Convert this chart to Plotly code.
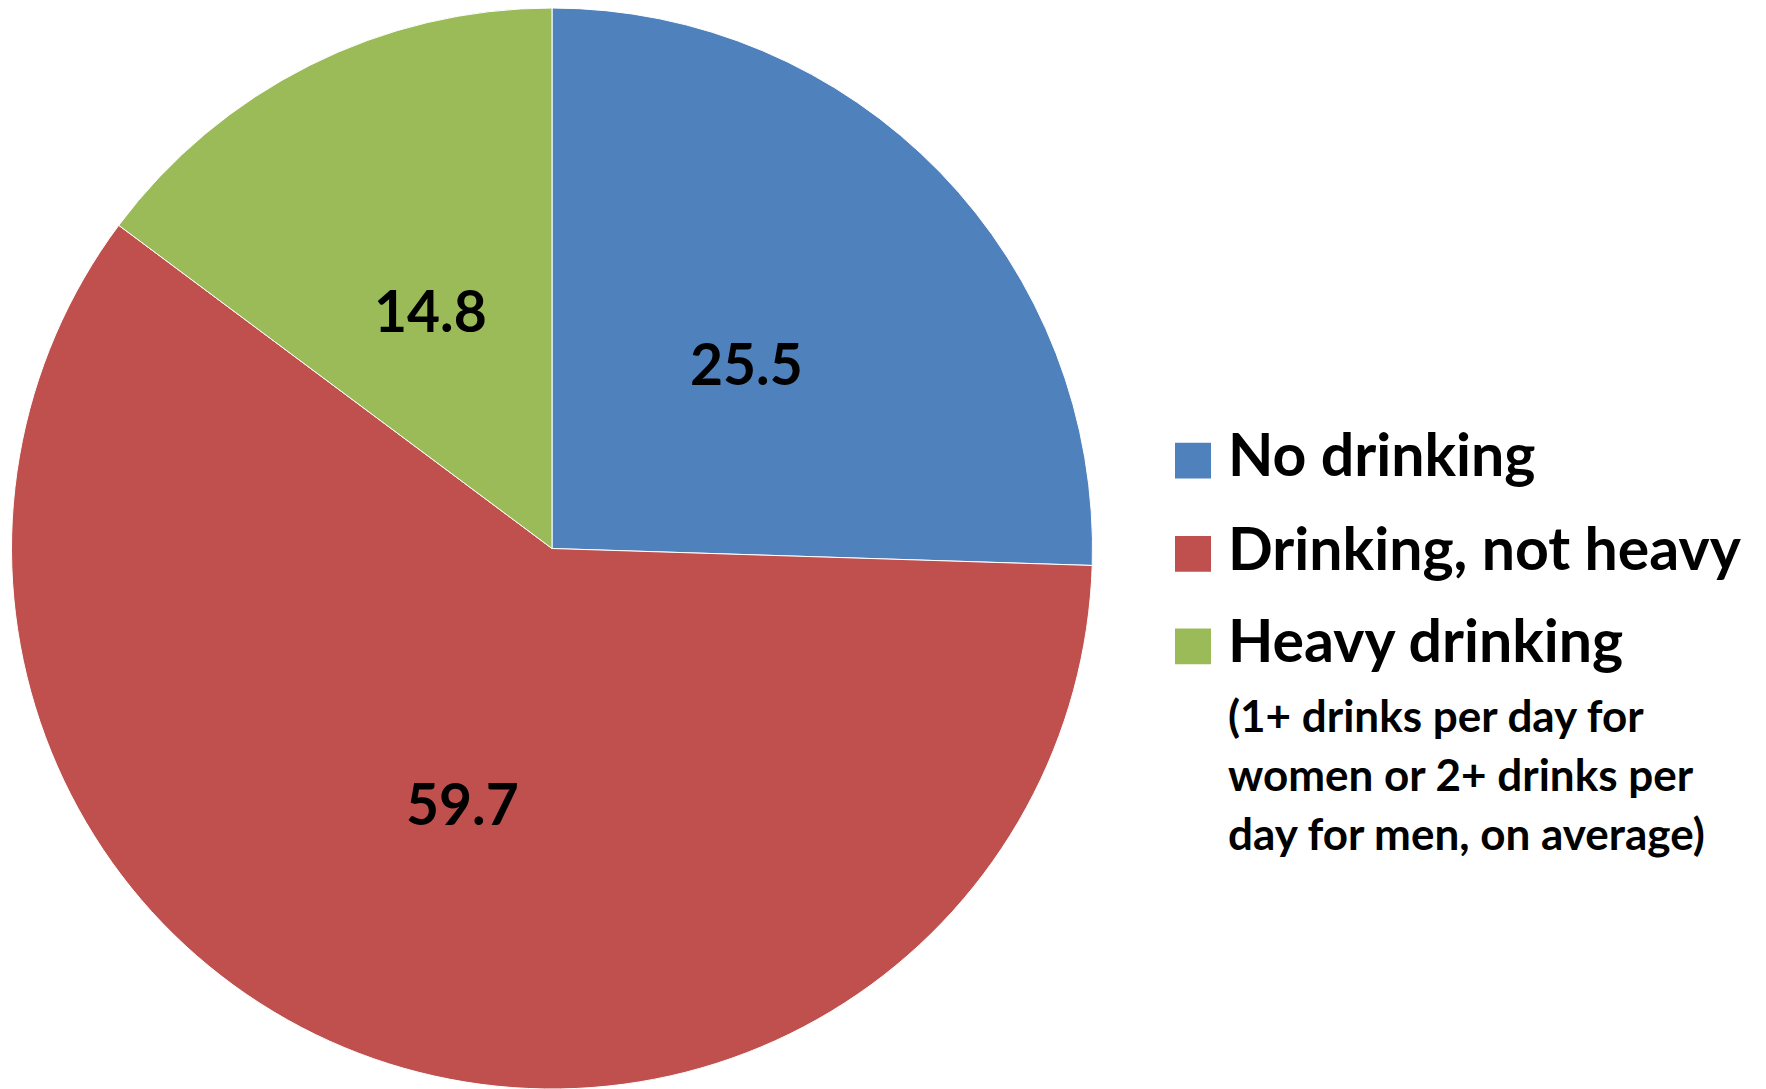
import math
import plotly.graph_objects as go

categories = ["No drinking", "Drinking, not heavy", "Heavy drinking"]
values = [25.5, 59.7, 14.8]
colors = ["#4F81BD", "#C0504D", "#9BBB59"]
note_lines = ["(1+ drinks per day for", "women or 2+ drinks per", "day for men, on average)"]

W, H = 1766, 1089
FONT = "Lato"

# pie geometry (pixels)
CX, CY, R = 552, 548.5, 540.5

fig = go.Figure(go.Pie(
    labels=categories,
    values=values,
    sort=False,
    direction="clockwise",
    rotation=0,
    marker=dict(colors=colors, line=dict(color="white", width=1)),
    textinfo="none",
    hoverinfo="label+value",
    showlegend=False,
    domain=dict(x=[(CX - R) / W, (CX + R) / W], y=[0, 1]),
))

annotations = []
# data labels at half radius, mid-angle of each slice (computed from values)
total = sum(values)
cum = 0.0
for v in values:
    mid = (cum + v / 2) / total * 2 * math.pi
    cum += v
    px = CX + 0.5 * R * math.sin(mid)
    py = CY - 0.5 * R * math.cos(mid) - 3
    annotations.append(dict(text=f"{v:.1f}", xref="paper", yref="paper",
                            x=px / W, y=1 - py / H, xanchor="center", yanchor="middle",
                            showarrow=False,
                            font=dict(family=FONT, size=57, color="black", weight="bold")))

# custom legend (boxes + text)
box_x0, box_x1 = 1175, 1211
row_y = [456, 550, 643]
shapes = []
for cat, col, yc in zip(categories, colors, row_y):
    shapes.append(dict(type="rect", xref="paper", yref="paper",
                       x0=box_x0 / W, x1=box_x1 / W,
                       y0=1 - (yc + 18) / H, y1=1 - (yc - 18) / H,
                       fillcolor=col, line=dict(width=0)))
    annotations.append(dict(text=cat, xref="paper", yref="paper",
                            x=1226 / W, y=1 - (yc - 7) / H, xanchor="left", yanchor="middle",
                            showarrow=False,
                            font=dict(family=FONT, size=59, color="black", weight="bold")))
note_y = [712, 772, 831]
for line, yc in zip(note_lines, note_y):
    annotations.append(dict(text=line, xref="paper", yref="paper",
                            x=1226 / W, y=1 - yc / H, xanchor="left", yanchor="middle",
                            showarrow=False,
                            font=dict(family=FONT, size=44, color="black", weight="bold")))

fig.update_layout(
    width=W, height=H,
    margin=dict(l=0, r=0, t=8, b=0),
    paper_bgcolor="white",
    plot_bgcolor="white",
    shapes=shapes,
    annotations=annotations,
)

fig.write_html("out.html", config={"displayModeBar": False},
               post_script="document.body.style.margin='0';document.body.style.overflow='hidden';")
